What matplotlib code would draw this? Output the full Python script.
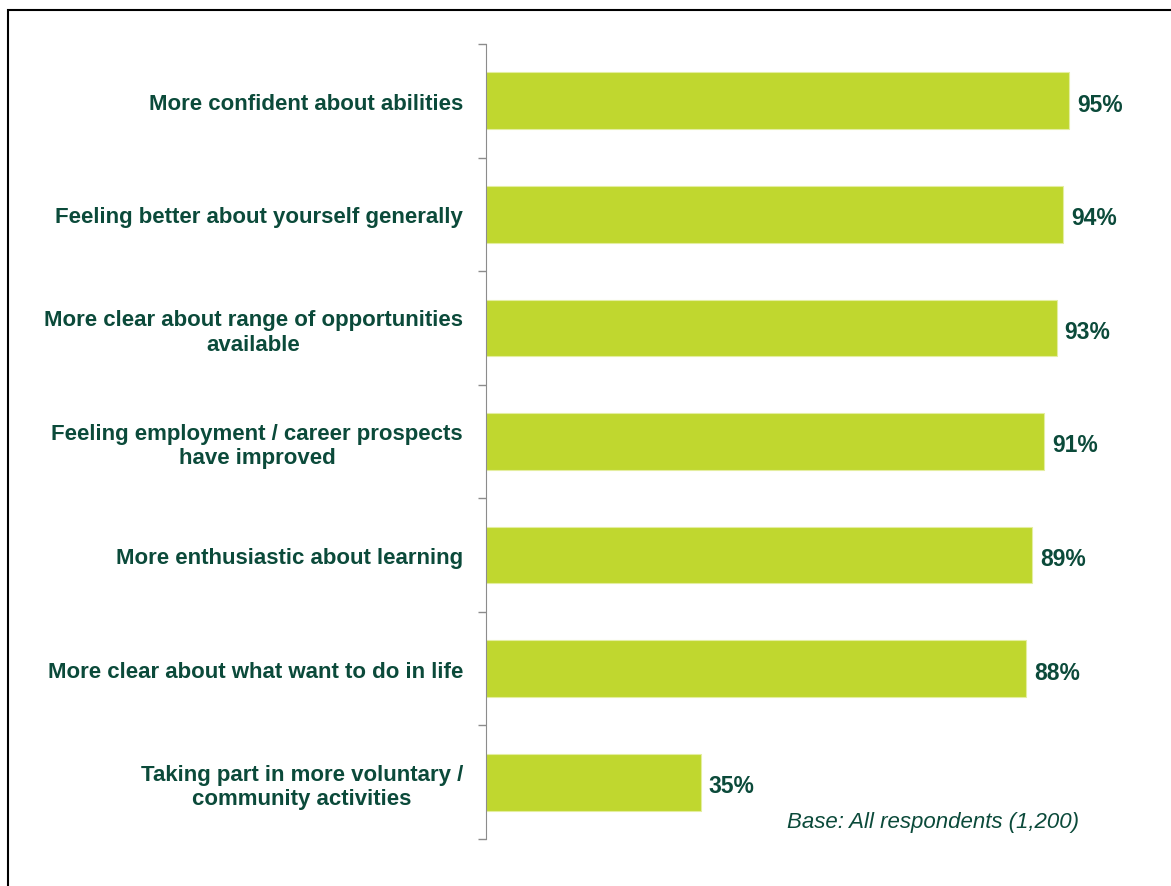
import matplotlib.pyplot as plt
from matplotlib.patches import Rectangle

plt.rcParams['font.family'] = ['Liberation Sans', 'DejaVu Sans']

categories = [
    'More confident about abilities',
    'Feeling better about yourself generally',
    'More clear about range of opportunities\navailable',
    'Feeling employment / career prospects\nhave improved',
    'More enthusiastic about learning',
    'More clear about what want to do in life',
    'Taking part in more voluntary /\ncommunity activities',
]
values = [95, 94, 93, 91, 89, 88, 35]

bar_color = '#C0D72F'
text_color = '#0B4A3A'

fig = plt.figure(figsize=(11.71, 8.87), dpi=100)
# frame around the slide
fig.patches.append(Rectangle((8 / 1171, -0.05), 1.1, 1.05 - 11 / 887,
                             transform=fig.transFigure, fill=False,
                             edgecolor='black', linewidth=1.5))

ax = fig.add_axes([486 / 1171, 47 / 887, 685 / 1171, 795 / 887])
y = list(range(len(categories)))
ax.barh(y, values, height=0.5, color=bar_color, edgecolor='#E4EEA0', linewidth=0.8)
ax.set_ylim(len(categories) - 0.5, -0.5)
ax.set_xlim(0, 685 / 6.137)

for yi, v in zip(y, values):
    ax.text(v + 1.3, yi + 0.03, f'{v}%', va='center', ha='left', fontsize=16.5,
            fontweight='bold', color=text_color)

ax.set_yticks(y)
ax.set_yticklabels(categories, fontsize=16, fontweight='bold', color=text_color,
                   ha='right', multialignment='center')
ax.tick_params(axis='y', length=0, pad=16.5)
ax.set_yticks([i - 0.5 for i in range(len(categories) + 1)], minor=True)
ax.tick_params(axis='y', which='minor', length=6, color='#8C8C8C', width=1)
ax.set_xticks([])
for side in ['top', 'right', 'bottom']:
    ax.spines[side].set_visible(False)
ax.spines['left'].set_color('#8C8C8C')

ax.text(0.866, 0.022, 'Base: All respondents (1,200)', transform=ax.transAxes,
        ha='right', va='center', fontsize=16, style='italic', color=text_color)

fig.savefig('out.png', dpi=100)
